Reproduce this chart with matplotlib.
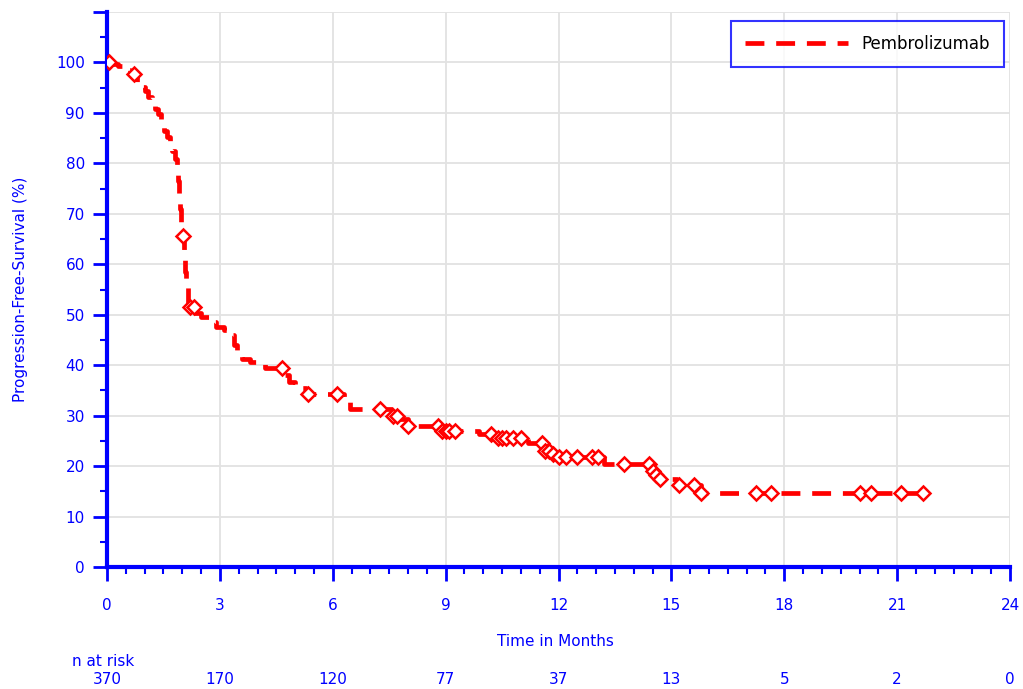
import numpy as np
import matplotlib.pyplot as plt
from matplotlib.ticker import MultipleLocator
from matplotlib.lines import Line2D

# KM estimate (months, % progression-free)
event_t = [0.0, 0.15, 0.3, 0.45, 0.6, 0.8, 0.9, 1.0, 1.1, 1.2, 1.28, 1.36, 1.44, 1.52, 1.6,
           1.67, 1.74, 1.8, 1.85, 1.89, 1.92, 1.95, 1.98, 2.02, 2.05, 2.08, 2.11, 2.14,
           2.2, 2.35, 2.5, 2.7, 2.9, 3.1, 3.3, 3.38, 3.45, 3.6, 3.8, 4.2, 4.7, 4.85, 5.0,
           5.3, 6.3, 6.45, 7.6, 7.75, 8.0, 8.85, 9.9, 10.4, 11.2, 11.6, 11.8, 12.0, 13.2,
           14.45, 14.6, 14.7, 15.15, 15.8]
event_s = [100, 99.6, 99.2, 98.6, 97.8, 96.2, 95.2, 94.3, 93.2, 91.8, 90.8, 89.8, 88.0, 86.5,
           85.2, 84.0, 82.5, 80.8, 79.0, 76.5, 74.0, 71.0, 68.0, 65.7, 62.0, 58.5, 55.5, 52.5,
           51.6, 50.4, 49.6, 48.6, 47.6, 47.0, 46.0, 44.0, 42.0, 41.2, 40.7, 39.4, 38.0, 36.6,
           35.5, 34.3, 32.8, 31.4, 30.0, 29.3, 27.9, 27.0, 26.4, 25.6, 24.6, 23.0, 22.4, 21.8,
           20.5, 19.0, 18.3, 17.4, 16.2, 14.7]

censor_t = [0.05, 0.72, 2.02, 2.2, 2.3, 4.65, 5.35, 6.1, 7.25, 7.6, 7.7, 8.0,
            8.8, 8.9, 9.0, 9.1, 9.25, 10.2, 10.4, 10.5, 10.6, 10.8, 11.0, 11.55, 11.65,
            11.75, 11.85, 12.0, 12.2, 12.5, 12.9, 13.05, 13.75, 14.4, 14.5, 14.6, 14.7,
            15.2, 15.6, 15.8, 17.25, 17.65, 20.0, 20.3, 21.1, 21.7]

xticks = [0, 3, 6, 9, 12, 15, 18, 21, 24]
at_risk = [370, 170, 120, 77, 37, 13, 5, 2, 0]

blue = '#0000ff'
red = '#ff0000'

# extend curve to last follow-up
line_t = event_t + [21.7]
line_s = event_s + [event_s[-1]]
idx = np.searchsorted(event_t, censor_t, side='right') - 1
censor_s = np.array(event_s)[idx]

fig = plt.figure(figsize=(10.23, 6.89), dpi=100)
ax = fig.add_axes([107 / 1023, 1 - 567 / 689, 903 / 1023, 555 / 689])

ax.plot(line_t, line_s, drawstyle='steps-post', color=red, lw=3.4,
        dashes=(4, 2.5), solid_capstyle='butt', zorder=3)
ax.plot(censor_t, censor_s, ls='none', marker='D', ms=7, mfc='white', mec=red,
        mew=1.8, zorder=4)

ax.set_xlim(0, 24)
ax.set_ylim(0, 110)
ax.xaxis.set_major_locator(MultipleLocator(3))
ax.xaxis.set_minor_locator(MultipleLocator(0.5))
ax.yaxis.set_minor_locator(MultipleLocator(5))
ax.set_yticks(range(0, 111, 10))
ax.set_yticklabels([str(v) if v <= 100 else '' for v in range(0, 111, 10)])
ax.grid(True, which='major', color='#e2e2e2', lw=1.3, zorder=0)

for s in ['top', 'right']:
    ax.spines[s].set_visible(False)
for s in ['left', 'bottom']:
    ax.spines[s].set_color(blue)
    ax.spines[s].set_linewidth(3)

ax.tick_params(axis='x', which='major', colors=blue, length=10, width=2, labelsize=11, pad=12)
ax.tick_params(axis='x', which='minor', colors=blue, length=5, width=1.5)
ax.tick_params(axis='y', which='major', colors=blue, length=10, width=2, labelsize=11, pad=6)
ax.tick_params(axis='y', which='minor', colors=blue, length=5, width=1.5)

ax.set_ylabel('Progression-Free-Survival (%)', color=blue, fontsize=11, labelpad=20)

fig.text(555 / 1023, 1 - 641 / 689, 'Time in Months', color=blue, fontsize=11,
         ha='center', va='center')
fig.text(72 / 1023, 1 - 661 / 689, 'n at risk', color=blue, fontsize=11,
         ha='left', va='center')
for t, n in zip(xticks, at_risk):
    x_fig = (107 + t / 24 * 903) / 1023
    fig.text(x_fig, 1 - 679 / 689, str(n), color=blue, fontsize=11,
             ha='center', va='center')

handle = Line2D([], [], color=red, lw=3.4, dashes=(4, 2.5))
leg = ax.legend([handle], ['Pembrolizumab'], loc='upper right',
                bbox_to_anchor=(1004 / 1023, 1 - 21 / 689), bbox_transform=fig.transFigure,
                fontsize=12, frameon=True, fancybox=False, handlelength=6.2,
                borderpad=0.85, borderaxespad=0, handletextpad=0.8)
leg.get_frame().set_edgecolor(blue)
leg.get_frame().set_linewidth(1.5)

fig.savefig('out.png', dpi=100)
